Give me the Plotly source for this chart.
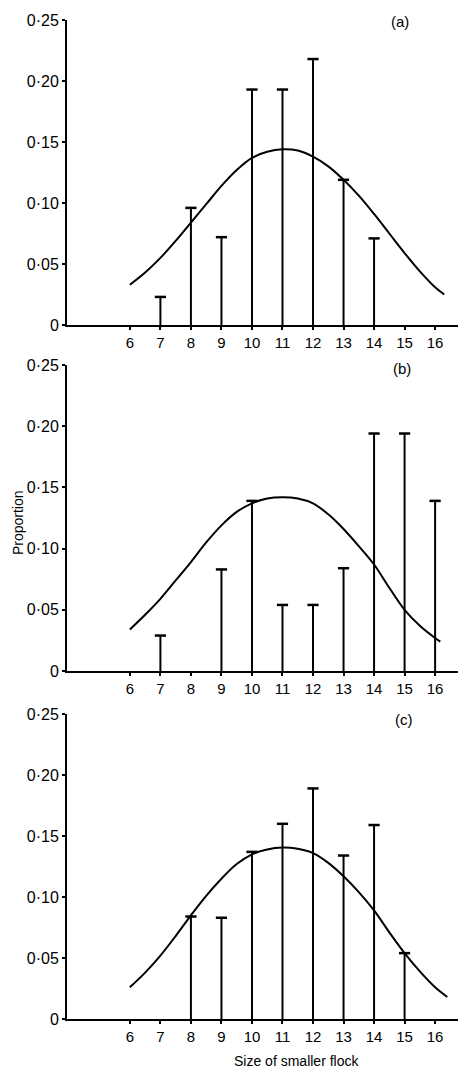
import plotly.graph_objects as go
from plotly.subplots import make_subplots

# observed proportions for each panel
x_a = [7, 8, 9, 10, 11, 12, 13, 14]
prop_a = [0.023, 0.096, 0.072, 0.193, 0.193, 0.218, 0.119, 0.071]

x_b = [7, 9, 10, 11, 12, 13, 14, 15, 16]
prop_b = [0.029, 0.083, 0.139, 0.054, 0.054, 0.084, 0.194, 0.194, 0.139]

x_c = [8, 9, 10, 11, 12, 13, 14, 15]
prop_c = [0.084, 0.083, 0.137, 0.160, 0.189, 0.134, 0.159, 0.054]

# fitted curves
curve_x_a = [6, 6.5, 7, 7.5, 8, 8.5, 9, 9.5, 10, 10.5, 11, 11.5, 12, 12.5,
             13, 13.5, 14, 14.5, 15, 15.5, 16, 16.3]
curve_y_a = [0.033, 0.043, 0.055, 0.069, 0.084, 0.099, 0.114, 0.127, 0.137,
             0.142, 0.144, 0.143, 0.138, 0.130, 0.119, 0.106, 0.091, 0.075,
             0.059, 0.044, 0.031, 0.025]

curve_x_b = [6, 6.5, 7, 7.5, 8, 8.5, 9, 9.5, 10, 10.5, 11, 11.5, 12, 12.5,
             13, 13.5, 14, 14.5, 15, 15.5, 16, 16.17]
curve_y_b = [0.034, 0.046, 0.059, 0.074, 0.089, 0.105, 0.119, 0.130, 0.137,
             0.141, 0.142, 0.141, 0.137, 0.128, 0.116, 0.102, 0.087, 0.068,
             0.050, 0.037, 0.027, 0.024]

curve_x_c = [6, 6.5, 7, 7.5, 8, 8.5, 9, 9.5, 10, 10.5, 11, 11.5, 12, 12.5,
             13, 13.5, 14, 14.5, 15, 15.5, 16, 16.4]
curve_y_c = [0.026, 0.038, 0.052, 0.068, 0.085, 0.101, 0.115, 0.127, 0.135,
             0.139, 0.1405, 0.1395, 0.136, 0.128, 0.117, 0.104, 0.089, 0.071,
             0.054, 0.039, 0.026, 0.018]

x_ticks = [6, 7, 8, 9, 10, 11, 12, 13, 14, 15, 16]
y_ticks = [0, 0.05, 0.10, 0.15, 0.20, 0.25]
y_tick_text = ['0', '0·05', '0·10', '0·15', '0·20', '0·25']
panel_labels = ['(a)', '(b)', '(c)']

FONT = 'Liberation Sans'

fig = make_subplots(rows=3, cols=1)

panels = [
    (x_a, prop_a, curve_x_a, curve_y_a),
    (x_b, prop_b, curve_x_b, curve_y_b),
    (x_c, prop_c, curve_x_c, curve_y_c),
]

for i, (xs, ys, cx, cy) in enumerate(panels, start=1):
    # vertical stems from the axis up to each value
    stem_x, stem_y = [], []
    for x, y in zip(xs, ys):
        stem_x += [x, x, None]
        stem_y += [0, y, None]
    fig.add_trace(go.Scatter(
        x=stem_x, y=stem_y, mode='lines',
        line=dict(color='black', width=2),
        showlegend=False, hoverinfo='skip'
    ), row=i, col=1)
    # cap on top of each stem
    fig.add_trace(go.Scatter(
        x=xs, y=ys, mode='markers',
        marker=dict(symbol='line-ew', size=8, line=dict(color='black', width=2.5)),
        showlegend=False
    ), row=i, col=1)
    fig.add_trace(go.Scatter(
        x=cx, y=cy, mode='lines',
        line=dict(color='black', width=2, shape='spline', smoothing=1.0),
        showlegend=False
    ), row=i, col=1)

domains = [(0.6947, 1.0), (0.3483, 0.6547), (0.0, 0.3053)]
for i, dom in enumerate(domains, start=1):
    fig.update_xaxes(
        range=[3.94, 16.75], domain=[0, 1], automargin=False,
        tickvals=x_ticks, ticktext=[str(t) for t in x_ticks],
        ticks='outside', ticklen=3, tickwidth=2, tickcolor='black',
        showline=True, linecolor='black', linewidth=2,
        showgrid=False, zeroline=False,
        tickfont=dict(family=FONT, size=15, color='black'),
        row=i, col=1
    )
    fig.update_yaxes(
        range=[0, 0.25], domain=list(dom), automargin=False,
        tickvals=y_ticks, ticktext=y_tick_text,
        ticks='outside', ticklen=3, tickwidth=2, tickcolor='black',
        showline=True, linecolor='black', linewidth=2,
        showgrid=False, zeroline=False,
        tickfont=dict(family=FONT, size=16, color='black'),
        row=i, col=1
    )

label_pos = [(0.852, 0.998), (0.857, 0.6507), (0.862, 0.3003)]
annotations = []
for text, (ax, ay) in zip(panel_labels, label_pos):
    annotations.append(dict(
        x=ax, y=ay, xref='paper', yref='paper', text=text,
        showarrow=False, xanchor='center', yanchor='middle',
        font=dict(family=FONT, size=15, color='black')
    ))
annotations.append(dict(
    x=-0.125, y=0.4965, xref='paper', yref='paper', text='Proportion',
    textangle=-90, showarrow=False, xanchor='center', yanchor='middle',
    font=dict(family=FONT, size=14, color='black')
))
annotations.append(dict(
    x=0.586, y=-0.042, xref='paper', yref='paper', text='Size of smaller flock',
    showarrow=False, xanchor='center', yanchor='middle',
    font=dict(family=FONT, size=14, color='black')
))

fig.update_layout(
    width=459, height=1069,
    margin=dict(l=67, r=1, t=20, b=50),
    plot_bgcolor='white', paper_bgcolor='white',
    annotations=annotations
)

# drop the page's default body margin so the figure sits at the window corner
fig.write_html("out.html", config={'displayModeBar': False},
               post_script="document.body.style.margin='0';")
